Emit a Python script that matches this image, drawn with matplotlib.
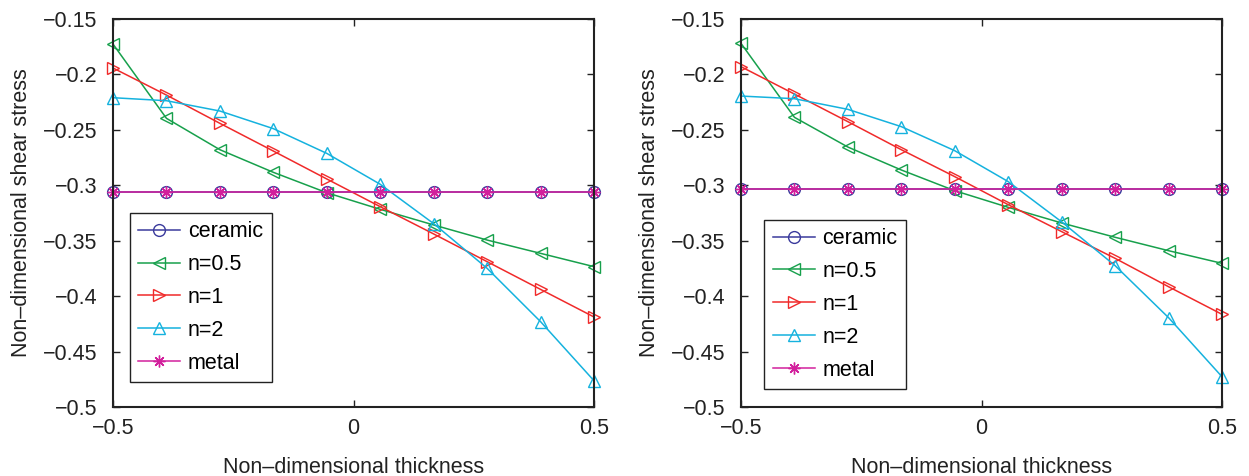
import numpy as np
import matplotlib
matplotlib.use("Agg")
import matplotlib.pyplot as plt

plt.rcParams['font.family'] = ['Liberation Sans', 'DejaVu Sans']
plt.rcParams['font.size'] = 15.5

thickness = [-0.5, -0.3889, -0.2778, -0.1667, -0.0556, 0.0556, 0.1667, 0.2778, 0.3889, 0.5]

left_ceramic = [-0.3064] * 10
left_n05 = [-0.1726, -0.2396, -0.2679, -0.2883, -0.3067, -0.3217, -0.3358, -0.3494, -0.3614, -0.3734]
left_n1 = [-0.1942, -0.2186, -0.2441, -0.2691, -0.2943, -0.3193, -0.3439, -0.3689, -0.3939, -0.4188]
left_n2 = [-0.2210, -0.2237, -0.2330, -0.2489, -0.2712, -0.2991, -0.3346, -0.3749, -0.4230, -0.4763]
left_metal = [-0.3064] * 10

right_ceramic = [-0.3034] * 10
right_n05 = [-0.1720, -0.2387, -0.2655, -0.2862, -0.3049, -0.3199, -0.3340, -0.3469, -0.3590, -0.3704]
right_n1 = [-0.1930, -0.2177, -0.2426, -0.2679, -0.2922, -0.3175, -0.3418, -0.3659, -0.3915, -0.4164]
right_n2 = [-0.2195, -0.2219, -0.2315, -0.2471, -0.2688, -0.2967, -0.3330, -0.3725, -0.4194, -0.4727]
right_metal = [-0.3034] * 10

labels = ['ceramic', 'n=0.5', 'n=1', 'n=2', 'metal']
colors = ['#3a3a9c', '#17a04c', '#f02a2a', '#15b2de', '#d2209c']
markers = ['o', '<', '>', '^', (8, 2, 0)]

xticks = [-0.5, 0, 0.5]
xticklabels = ['\u22120.5', '0', '0.5']
yticks = [-0.5, -0.45, -0.4, -0.35, -0.3, -0.25, -0.2, -0.15]
yticklabels = ['\u22120.5', '\u22120.45', '\u22120.4', '\u22120.35', '\u22120.3', '\u22120.25', '\u22120.2', '\u22120.15']

fig = plt.figure(figsize=(12.49, 4.76), dpi=100)
axL = fig.add_axes([113/1249, 69/476, 481/1249, 388/476])
axR = fig.add_axes([741/1249, 69/476, 481/1249, 388/476])

panels = [
    (axL, [left_ceramic, left_n05, left_n1, left_n2, left_metal], (0.035, 0.064)),
    (axR, [right_ceramic, right_n05, right_n1, right_n2, right_metal], (0.048, 0.046)),
]

for ax, series, anchor in panels:
    for ys, lab, c, m in zip(series, labels, colors, markers):
        ax.plot(thickness, ys, color=c, marker=m, markersize=8.5, markerfacecolor='none',
                markeredgecolor=c, markeredgewidth=1.0, linewidth=1.1, label=lab,
                clip_on=False, zorder=3)
    ax.set_xlim(-0.5, 0.5)
    ax.set_ylim(-0.5, -0.15)
    ax.set_xticks(xticks)
    ax.set_xticklabels(xticklabels)
    ax.set_yticks(yticks)
    ax.set_yticklabels(yticklabels)
    ax.tick_params(direction='in', top=True, right=True, length=5, width=1.0,
                   labelsize=15.5, colors='#222222')
    ax.tick_params(axis='x', pad=8)
    ax.tick_params(axis='y', pad=11)
    for s in ax.spines.values():
        s.set_linewidth(1.5)
        s.set_color('#222222')
        s.set_zorder(4)
    ax.set_xlabel('Non\u2013dimensional thickness', fontsize=15.5, color='#222222', labelpad=13)
    ax.set_ylabel('Non\u2013dimensional shear stress', fontsize=15.5, color='#222222', labelpad=8)
    leg = ax.legend(loc='lower left', bbox_to_anchor=anchor, borderaxespad=0,
                    fontsize=15.5, fancybox=False, framealpha=1, edgecolor='#222222',
                    handlelength=1.95, labelspacing=0.55, borderpad=0.4, handletextpad=0.35)
    leg.get_frame().set_linewidth(1.0)
    leg.set_zorder(5)

fig.savefig('out.png', dpi=100)
